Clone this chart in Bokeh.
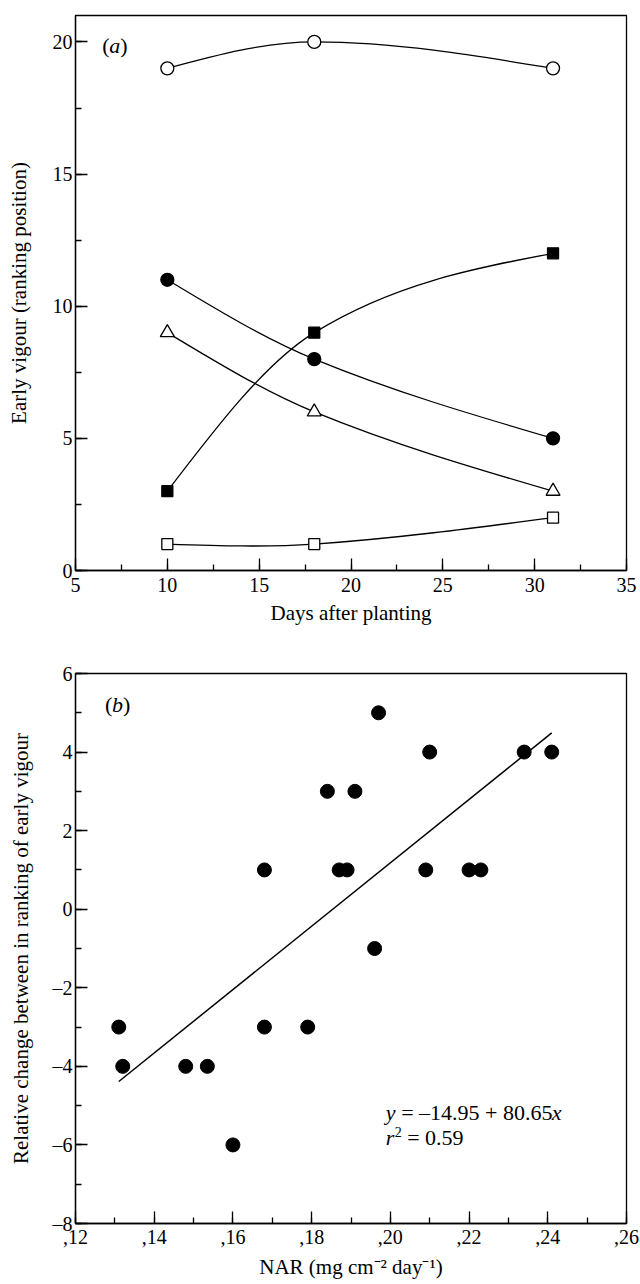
import numpy as np
from bokeh.plotting import figure
from bokeh.layouts import column
from bokeh.models import Range1d, SingleIntervalTicker, CustomJSTickFormatter, ColumnDataSource
from bokeh.core.properties import value
from bokeh.embed import file_html
from bokeh.resources import INLINE

# ---------------- data: panel (a) ----------------
days = [10, 18, 31]
open_circle = [19, 20, 19]
filled_circle = [11, 8, 5]
open_triangle = [9, 6, 3]
filled_square = [3, 9, 12]
open_square = [1, 1, 2]

# ---------------- data: panel (b) ----------------
nar = [0.131, 0.132, 0.148, 0.1535, 0.160, 0.168, 0.168, 0.179, 0.184, 0.187,
       0.189, 0.191, 0.196, 0.197, 0.209, 0.210, 0.220, 0.223, 0.234, 0.241]
change = [-3, -4, -4, -4, -6, -3, 1, -3, 3, 1,
          1, 3, -1, 5, 1, 4, 1, 1, 4, 4]
fit_intercept = -14.95
fit_slope = 80.65

nar_ticks = [0.12, 0.14, 0.16, 0.18, 0.20, 0.22, 0.24, 0.26]
nar_tick_labels = [",12", ",14", ",16", ",18", ",20", ",22", ",24", ",26"]
change_ticks = [-8, -6, -4, -2, 0, 2, 4, 6]
change_tick_labels = ["\u20138", "\u20136", "\u20134", "\u20132", "0", "2", "4", "6"]

FONT = "Liberation Serif"
LW = 1.3
NB = "\u00a0"


def smooth_bezier(xs, ys):
    """Smooth curve through the points: chord slopes inside, natural ends."""
    x = np.asarray(xs, float)
    y = np.asarray(ys, float)
    h = np.diff(x)
    s = np.diff(y) / h
    d = np.zeros(len(x))
    d[1:-1] = (y[2:] - y[:-2]) / (x[2:] - x[:-2])
    d[0] = (3 * s[0] - d[1]) / 2
    d[-1] = (3 * s[-1] - d[-2]) / 2
    return dict(x0=x[:-1], y0=y[:-1], x1=x[1:], y1=y[1:],
                cx0=x[:-1] + h / 3, cy0=y[:-1] + d[:-1] * h / 3,
                cx1=x[1:] - h / 3, cy1=y[1:] - d[1:] * h / 3)


def style(p):
    p.outline_line_color = "black"
    p.outline_line_width = LW
    p.xgrid.visible = False
    p.ygrid.visible = False
    p.background_fill_color = "white"
    p.border_fill_color = "white"
    for ax in (p.xaxis[0], p.yaxis[0]):
        ax.axis_line_width = LW
        ax.axis_line_color = "black"
        ax.major_tick_in = 12
        ax.major_tick_out = 0
        ax.minor_tick_in = 6
        ax.minor_tick_out = 0
        ax.major_tick_line_width = LW
        ax.minor_tick_line_width = LW
        ax.major_tick_line_color = "black"
        ax.minor_tick_line_color = "black"
        ax.major_label_text_font = FONT
        ax.major_label_text_font_size = "20px"
        ax.major_label_text_color = "black"
        ax.axis_label_text_font = FONT
        ax.axis_label_text_font_size = "21px"
        ax.axis_label_text_font_style = "normal"
        ax.axis_label_text_color = "black"


def label_formatter(tvals, tlabels):
    return CustomJSTickFormatter(
        args=dict(tvals=tvals, tlabels=tlabels),
        code="const i = tvals.findIndex(t => Math.abs(t - tick) < 1e-9); return i >= 0 ? tlabels[i] : '';")


# ---------------- panel (a) ----------------
p1 = figure(width=640, height=650, x_range=Range1d(5, 35), y_range=Range1d(0, 21),
            output_backend="svg", toolbar_location=None,
            min_border_left=75, min_border_right=9, min_border_top=15, min_border_bottom=80)
style(p1)
p1.xaxis[0].ticker = SingleIntervalTicker(interval=5, num_minor_ticks=2)
p1.yaxis[0].ticker = SingleIntervalTicker(interval=5, num_minor_ticks=2)
p1.xaxis[0].axis_label = "Days after planting"
p1.yaxis[0].axis_label = "Early vigour (ranking position)"
p1.xaxis[0].major_label_standoff = 7
p1.xaxis[0].axis_label_standoff = 6
p1.yaxis[0].major_label_standoff = 3
p1.yaxis[0].axis_label_standoff = 19

series = [
    (open_circle, "circle", "white", 13),
    (filled_circle, "circle", "black", 13),
    (open_triangle, "triangle", "white", 14),
    (filled_square, "square", "black", 11),
    (open_square, "square", "white", 11),
]
for ys, marker, fill, size in series:
    seg = ColumnDataSource(smooth_bezier(days, ys))
    p1.bezier(x0="x0", y0="y0", x1="x1", y1="y1", cx0="cx0", cy0="cy0", cx1="cx1", cy1="cy1",
              source=seg, line_color="black", line_width=LW)
for ys, marker, fill, size in series:
    p1.scatter(days, ys, marker=marker, size=size, fill_color=fill,
               line_color="black", line_width=LW)

txt = dict(text_font=value(FONT), text_font_size=value("22px"), text_baseline="middle",
           text_align="left", text_color="black")
pa_x, pa_y = 6.45, 19.85
p1.text(x=[pa_x], y=[pa_y], text=["("], text_font_style=value("normal"), **txt)
p1.text(x=[pa_x], y=[pa_y], text=["a"], x_offset=7, text_font_style=value("italic"), **txt)
p1.text(x=[pa_x], y=[pa_y], text=[")"], x_offset=18, text_font_style=value("normal"), **txt)

# ---------------- panel (b) ----------------
p2 = figure(width=640, height=634, x_range=Range1d(0.12, 0.26), y_range=Range1d(-8, 6),
            output_backend="svg", toolbar_location=None,
            min_border_left=75, min_border_right=14, min_border_top=23, min_border_bottom=61)
style(p2)
p2.xaxis[0].ticker = SingleIntervalTicker(interval=0.02, num_minor_ticks=2)
p2.yaxis[0].ticker = SingleIntervalTicker(interval=2, num_minor_ticks=2)
p2.xaxis[0].formatter = label_formatter(nar_ticks, nar_tick_labels)
p2.yaxis[0].formatter = label_formatter(change_ticks, change_tick_labels)
p2.xaxis[0].axis_label = "NAR (mg cm\u207b\u00b2 day\u207b\u00b9)"
p2.yaxis[0].axis_label = "Relative change between in ranking of early vigour"
p2.xaxis[0].major_label_standoff = 6
p2.xaxis[0].axis_label_standoff = 8
p2.yaxis[0].major_label_standoff = 3
p2.yaxis[0].axis_label_standoff = 17

fx = [min(nar), max(nar)]
fy = [fit_intercept + fit_slope * v for v in fx]
p2.line(fx, fy, line_color="black", line_width=1.5)
p2.scatter(nar, change, marker="circle", size=14, fill_color="black", line_color="black")

pb_x, pb_y = 0.1275, 5.2
p2.text(x=[pb_x], y=[pb_y], text=["("], text_font_style=value("normal"), **txt)
p2.text(x=[pb_x], y=[pb_y], text=["b"], x_offset=7, text_font_style=value("italic"), **txt)
p2.text(x=[pb_x], y=[pb_y], text=[")"], x_offset=18, text_font_style=value("normal"), **txt)

eq_x, eq_y1, eq_y2 = 0.1988, -5.18, -5.82
p2.text(x=[eq_x], y=[eq_y1], text=["y"], text_font_style=value("italic"), **txt)
p2.text(x=[eq_x], y=[eq_y1], text=[NB + "=" + NB + "\u201314.95 + 80.65"], x_offset=10,
        text_font_style=value("normal"), **txt)
p2.text(x=[eq_x], y=[eq_y1], text=["x"], x_offset=166, text_font_style=value("italic"), **txt)
p2.text(x=[eq_x], y=[eq_y2], text=["r"], text_font_style=value("italic"), **txt)
p2.text(x=[eq_x], y=[eq_y2], text=["2"], x_offset=9, y_offset=-6,
        text_font=value(FONT), text_font_size=value("14px"), text_baseline="middle",
        text_align="left", text_color="black")
p2.text(x=[eq_x], y=[eq_y2], text=[NB + "=" + NB + "0.59"], x_offset=16,
        text_font_style=value("normal"), **txt)

layout = column(p1, p2)
open("out.html", "w").write(file_html(layout, INLINE))
